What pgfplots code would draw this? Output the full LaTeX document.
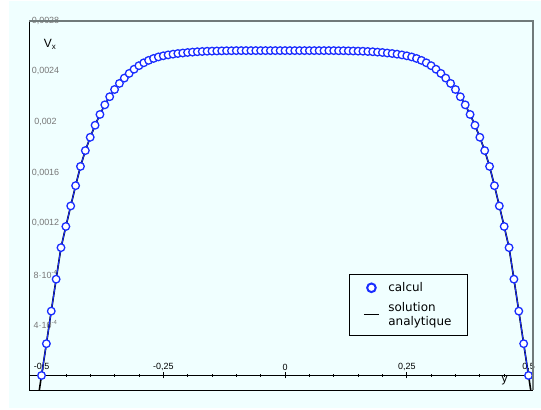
\documentclass[border=0pt]{standalone}
\usepackage{pgfplots}
\pgfplotsset{compat=1.18}
\usepackage{pgfplotstable}
\usepackage{fontspec}
\setmainfont{Liberation Sans}
\newfontfamily\legfont{DejaVu Sans}
\definecolor{bg}{RGB}{240,255,255}
\definecolor{cblue}{RGB}{25,45,255}
\definecolor{framegray}{RGB}{112,122,122}
\definecolor{labgray}{RGB}{120,120,120}

\pgfplotstableread{
x v
-0.50 0
-0.49 0.000251
-0.48 0.000508
-0.47 0.000760
-0.46 0.001009
-0.45 0.001176
-0.44 0.001338
-0.43 0.001498
-0.42 0.001650
-0.41 0.001775
-0.40 0.001880
-0.39 0.001975
-0.38 0.002060
-0.37 0.002136
-0.36 0.002200
-0.35 0.002257
-0.34 0.002305
-0.33 0.002347
-0.32 0.002384
-0.31 0.002417
-0.30 0.002445
-0.29 0.002468
-0.28 0.002487
-0.27 0.002502
-0.26 0.002514
-0.25 0.002523
-0.24 0.002530
-0.23 0.002536
-0.22 0.002541
-0.21 0.002545
-0.20 0.002549
-0.19 0.002552
-0.18 0.002555
-0.17 0.002557
-0.16 0.002559
-0.15 0.002560
-0.14 0.002561
-0.13 0.002562
-0.12 0.002563
-0.11 0.002563
-0.10 0.002564
-0.09 0.002564
-0.08 0.002564
-0.07 0.002564
-0.06 0.002564
-0.05 0.002564
-0.04 0.002564
-0.03 0.002564
-0.02 0.002564
-0.01 0.002564
0.00 0.002564
0.01 0.002564
0.02 0.002564
0.03 0.002564
0.04 0.002564
0.05 0.002564
0.06 0.002564
0.07 0.002564
0.08 0.002564
0.09 0.002564
0.10 0.002564
0.11 0.002563
0.12 0.002563
0.13 0.002562
0.14 0.002561
0.15 0.002560
0.16 0.002559
0.17 0.002557
0.18 0.002555
0.19 0.002552
0.20 0.002549
0.21 0.002545
0.22 0.002541
0.23 0.002536
0.24 0.002530
0.25 0.002523
0.26 0.002514
0.27 0.002502
0.28 0.002487
0.29 0.002468
0.30 0.002445
0.31 0.002417
0.32 0.002384
0.33 0.002347
0.34 0.002305
0.35 0.002257
0.36 0.002200
0.37 0.002136
0.38 0.002060
0.39 0.001975
0.40 0.001880
0.41 0.001775
0.42 0.001650
0.43 0.001498
0.44 0.001338
0.45 0.001176
0.46 0.001009
0.47 0.000760
0.48 0.000508
0.49 0.000251
0.50 0
}\calcul

\pgfplotstableread{
x v
-0.5045 -0.000115
-0.50 0
-0.49 0.000251
-0.48 0.000508
-0.47 0.000760
-0.46 0.001009
-0.45 0.001176
-0.44 0.001338
-0.43 0.001498
-0.42 0.001650
-0.41 0.001775
-0.40 0.001880
-0.39 0.001975
-0.38 0.002060
-0.37 0.002136
-0.36 0.002200
-0.35 0.002257
-0.34 0.002305
-0.33 0.002347
-0.32 0.002384
-0.31 0.002417
-0.30 0.002445
-0.29 0.002468
-0.28 0.002487
-0.27 0.002502
-0.26 0.002514
-0.25 0.002523
-0.24 0.002530
-0.23 0.002536
-0.22 0.002541
-0.21 0.002545
-0.20 0.002549
-0.18 0.002555
-0.16 0.002559
-0.14 0.002561
-0.12 0.002563
-0.10 0.002564
0.00 0.002564
0.10 0.002564
0.12 0.002563
0.14 0.002561
0.16 0.002559
0.18 0.002555
0.20 0.002549
0.21 0.002545
0.22 0.002541
0.23 0.002536
0.24 0.002530
0.25 0.002523
0.26 0.002514
0.27 0.002502
0.28 0.002487
0.29 0.002468
0.30 0.002445
0.31 0.002417
0.32 0.002384
0.33 0.002347
0.34 0.002305
0.35 0.002257
0.36 0.002200
0.37 0.002136
0.38 0.002060
0.39 0.001975
0.40 0.001880
0.41 0.001775
0.42 0.001650
0.43 0.001498
0.44 0.001338
0.45 0.001176
0.46 0.001009
0.47 0.000760
0.48 0.000508
0.49 0.000251
0.50 0
0.5045 -0.000115
}\analytique

\begin{document}
\begin{tikzpicture}[x=1bp,y=1bp]
\fill[white] (0,0) rectangle (541,409);
\fill[bg] (9,1) rectangle (541,408);
\begin{axis}[
  at={(29bp,19bp)}, anchor=south west,
  scale only axis, width=504bp, height=369.3bp,
  xmin=-0.5257, xmax=0.5092, ymin=-0.0001146, ymax=0.0028,
  axis x line=middle, axis y line*=left,
  x axis line style={-, black, line width=0.8bp},
  y axis line style={draw=none},
  clip mode=individual,
  scaled y ticks=false,
  xtick={-0.5,-0.25,0,0.25,0.5},
  xticklabels={{-0,5},{-0,25},{0},{0,25},{0,5}},
  minor x tick num=4,
  tick align=center,
  major tick length=6bp, minor tick length=3bp,
  xtick style={black, line width=0.7bp},
  ytick={0.0004,0.0008,0.0012,0.0016,0.002,0.0024,0.0028},
  yticklabels={{4·10\textsuperscript{-4}},{8·10\textsuperscript{-4}},{0,0012},{0,0016},{0,002},{0,0024},{0,0028}},
  ytick style={draw=none},
  /pgf/number format/assume math mode=true,
  yticklabel style={font=\fontsize{9}{10}\selectfont, text=labgray, anchor=center, xshift=19.5bp},
  xticklabel style={font=\fontsize{9}{10}\selectfont, text=black, anchor=south, yshift=4bp},
  xlabel={y}, ylabel={V\textsubscript{x}},
  every axis x label/.style={at={(axis description cs:0.9435,0.0244)}, anchor=center, font=\fontsize{12}{13}\selectfont},
  every axis y label/.style={at={(axis description cs:0.0417,0.9356)}, anchor=center, font=\fontsize{12}{13}\selectfont},
  legend cell align=left,
  legend style={at={(axis description cs:0.635,0.3141)}, anchor=north west,
    fill=bg, draw=black, line width=1bp,
    font=\legfont\fontsize{12}{14.5}\selectfont,
    cells={align=left}, inner xsep=14bp, inner ysep=6bp, row sep=5bp, column sep=7bp},
  reverse legend,
]
\addplot[black, line width=1.6bp,
  legend image code/.code={\draw[black, line width=0.8bp] (0bp,0bp) -- (15bp,0bp);}]
  table[x=x, y=v] {\analytique};
\addlegendentry{solution\\analytique\rule[-5bp]{0pt}{5bp}}
\addplot[cblue, line width=1bp, forget plot] table[x=x, y=v] {\calcul};
\addplot[only marks, mark=*, mark size=3.8bp, mark options={draw=cblue, fill=white, line width=1.3bp},
  legend image code/.code={\draw[cblue, fill=white, line width=2bp] (7.5bp,0bp) circle (4.3bp);}]
  table[x=x, y=v] {\calcul};
\addlegendentry{calcul}
\draw[black, line width=0.8bp] (rel axis cs:0,1) -- (rel axis cs:0,0) -- (rel axis cs:1,0);
\draw[framegray, line width=1.8bp] (rel axis cs:0,1) -- (rel axis cs:1,1) -- (rel axis cs:1,0);
\end{axis}
\pgfresetboundingbox
\useasboundingbox (0,0) rectangle (541,409);
\end{tikzpicture}
\end{document}
